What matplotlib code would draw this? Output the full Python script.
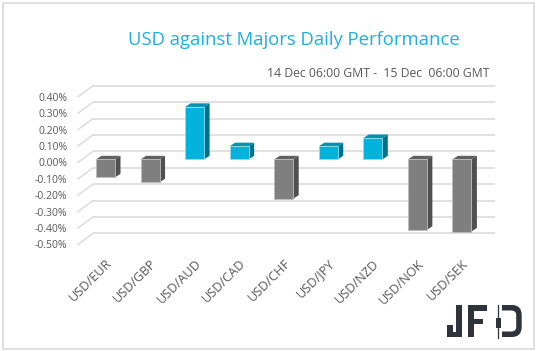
import matplotlib
matplotlib.use("Agg")
import matplotlib.pyplot as plt
from matplotlib.patches import Polygon, Rectangle, PathPatch
from matplotlib.path import Path

pairs = ["USD/EUR", "USD/GBP", "USD/AUD", "USD/CAD", "USD/CHF",
         "USD/JPY", "USD/NZD", "USD/NOK", "USD/SEK"]
changes = [-0.11, -0.14, 0.32, 0.08, -0.24, 0.08, 0.13, -0.43, -0.44]
y_ticks = [0.4, 0.3, 0.2, 0.1, 0.0, -0.1, -0.2, -0.3, -0.4, -0.5]
title = "USD against Majors Daily Performance"
period = "14 Dec 06:00 GMT -  15 Dec  06:00 GMT"

W, H = 538, 351
FONT = "Open Sans"

# pixel layout of the fake 3d column chart
X0, STEP = 105.5, 44.55      # first column centre, column spacing (px)
Y0, SCALE = 159.4, 164.0     # zero line of column fronts, px per 1 %
left_px, right_px, top_px, bot_px = 72, 530, 60, 250

fig = plt.figure(figsize=(W / 100, H / 100), dpi=100)
ax = fig.add_axes([left_px / W, 1 - bot_px / H,
                   (right_px - left_px) / W, (bot_px - top_px) / H])
ax.set_xlim((left_px - X0) / STEP, (right_px - X0) / STEP)
ax.set_ylim((Y0 - bot_px) / SCALE, (Y0 - top_px) / SCALE)
ax.patch.set_alpha(0)
for s in ax.spines.values():
    s.set_visible(False)

def dx(p):
    return p / STEP

def dy(p):
    return -p / SCALE

# depth offsets
FRONT_DX, FRONT_DY = dx(-4), dy(3)      # axis label plane
BACK_DX, BACK_DY = dx(11), dy(-8)       # back wall
SIDE_DX, SIDE_DY = dx(5.5), dy(-3.6)    # column depth
BW = dx(19)

# back wall gridlines + floor stubs on the left
back_x0 = dx(93 - X0)
back_x1 = dx(495 - X0)
front_x0 = dx(78 - X0)
for v in y_ticks:
    ax.plot([back_x0, back_x1], [v + BACK_DY, v + BACK_DY],
            color="#d9d9d9", lw=1.1, zorder=1, solid_capstyle="butt")
    ax.plot([front_x0, back_x0], [v + FRONT_DY, v + BACK_DY],
            color="#d9d9d9", lw=1.0, zorder=1)

blue = ("#00b2dc", "#0191b3", "#00738c", "#8fdcf0")
grey = ("#7f7f7f", "#626262", "#505050", "#bdbdbd")

xs = list(range(len(pairs)))
styles = [blue if v > 0 else grey for v in changes]
ax.bar(xs, changes, width=BW, color=[s[0] for s in styles],
       edgecolor=[s[3] for s in styles], linewidth=0.6, zorder=3)

for x, v, st in zip(xs, changes, styles):
    x0, x1 = x - BW / 2, x + BW / 2
    top, bot = max(v, 0), min(v, 0)
    ax.add_patch(Polygon([(x0, top), (x1, top), (x1 + SIDE_DX, top + SIDE_DY),
                          (x0 + SIDE_DX, top + SIDE_DY)],
                         closed=True, fc=st[1], ec="none", zorder=2))
    ax.add_patch(Polygon([(x1, bot), (x1, top), (x1 + SIDE_DX, top + SIDE_DY),
                          (x1 + SIDE_DX, bot + SIDE_DY)],
                         closed=True, fc=st[2], ec="none", zorder=2))

ax.set_yticks([v + FRONT_DY for v in y_ticks],
              labels=[f"{v:.2f}%" for v in y_ticks])
ax.set_xticks(xs, labels=pairs, rotation=45, ha="right",
              rotation_mode="anchor")
ax.tick_params(axis="y", length=0, pad=3.5, labelsize=7.5,
               labelcolor="#595959")
ax.tick_params(axis="x", length=0, pad=5, labelsize=9.2,
               labelcolor="#595959")
for lab in ax.get_xticklabels() + ax.get_yticklabels():
    lab.set_fontfamily(FONT)

fig.text(293.5 / W, 1 - 40 / H, title, ha="center", va="center",
         color="#1cb0e0", fontsize=13.3, family=FONT)
fig.text(378.5 / W, 1 - 73.5 / H, period, ha="center", va="center",
         color="#595959", fontsize=8.8, family=FONT)

# outer frame
fig.add_artist(Rectangle((2.5 / W, 1 - 348.5 / H), 531 / W, 346 / H,
                         transform=fig.transFigure, fill=False,
                         ec="#d9d9d9", lw=1.2))

# JFD logo
lax = fig.add_axes([0, 0, 1, 1])
lax.set_xlim(0, W)
lax.set_ylim(H, 0)
lax.axis("off")
lax.patch.set_alpha(0)
logo = "#30343a"
for (x, y, w, h) in [(456.2, 305, 5.5, 32), (447, 331.5, 14.7, 5.5), (447, 325, 5.5, 12),
                     (468, 305, 5.5, 32), (468, 305, 18.7, 5.5), (468, 318.5, 15, 5),
                     (495.8, 318, 4.8, 10)]:
    lax.add_patch(Rectangle((x, y), w, h, fc=logo, ec="none"))
lax.plot([498.2, 498.2], [305, 338], color=logo, lw=0.9)
d_path = Path([(502, 305), (512, 305), (521.7, 305), (521.7, 315),
               (521.7, 327), (521.7, 337), (512, 337), (502, 337),
               (502, 331.5), (511, 331.5), (516.2, 331.5), (516.2, 327),
               (516.2, 315), (516.2, 310.5), (511, 310.5), (502, 310.5), (502, 305)],
              [Path.MOVETO, Path.LINETO, Path.CURVE3, Path.CURVE3,
               Path.LINETO, Path.CURVE3, Path.CURVE3, Path.LINETO,
               Path.LINETO, Path.LINETO, Path.CURVE3, Path.CURVE3,
               Path.LINETO, Path.CURVE3, Path.CURVE3, Path.LINETO, Path.CLOSEPOLY])
lax.add_patch(PathPatch(d_path, fc=logo, ec="none"))

fig.savefig("out.png", dpi=100)
